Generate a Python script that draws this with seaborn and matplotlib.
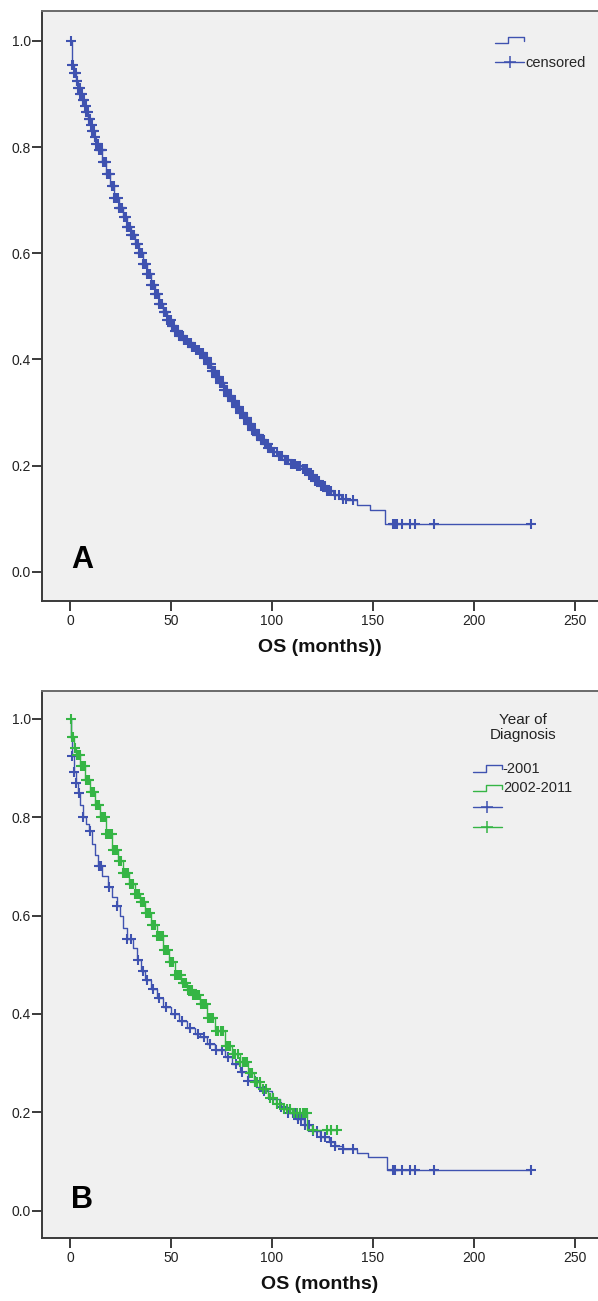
#!/usr/bin/env python3
"""Kaplan-Meier style overall survival curves, panel A (all) and B (by year of diagnosis)."""
import numpy as np
import pandas as pd
import matplotlib
matplotlib.use('Agg')
import matplotlib.pyplot as plt
import seaborn as sns
from matplotlib.legend_handler import HandlerBase
from matplotlib.lines import Line2D

# Panel A: whole cohort, survival steps
time_a = [0, 1, 2, 3, 4, 5, 6, 7, 8, 9, 10, 11, 12, 13, 14, 16, 18, 20, 22, 24,
          26, 28, 30, 32, 34, 36, 38, 40, 42, 44, 46, 48, 50, 52, 54, 56, 58, 60,
          62, 64, 66, 68, 70, 72, 74, 76, 78, 80, 82, 84, 86, 88, 90, 92, 94, 96,
          98, 100, 103, 106, 109, 112, 115, 118, 121, 124, 127, 130, 134, 137,
          142, 148.6, 156, 228]
surv_a = [1.000, 0.955, 0.940, 0.925, 0.912, 0.900, 0.888, 0.877, 0.865, 0.853,
          0.842, 0.830, 0.818, 0.806, 0.795, 0.772, 0.750, 0.727, 0.704, 0.686,
          0.668, 0.650, 0.634, 0.617, 0.600, 0.580, 0.561, 0.541, 0.523, 0.505,
          0.489, 0.475, 0.463, 0.453, 0.445, 0.437, 0.430, 0.424, 0.418, 0.412,
          0.402, 0.391, 0.378, 0.366, 0.355, 0.343, 0.332, 0.321, 0.310, 0.300,
          0.290, 0.279, 0.268, 0.258, 0.248, 0.240, 0.233, 0.226, 0.218, 0.210,
          0.204, 0.199, 0.193, 0.182, 0.172, 0.162, 0.153, 0.145, 0.138, 0.135,
          0.125, 0.117, 0.090, 0.090]
cens_a = [0.4, 1.2, 1.6, 2.1, 2.5, 2.8, 3.3, 3.6, 4.0, 4.3, 4.8, 5.1, 5.4, 5.7,
          6.2, 6.6, 6.9, 7.2, 7.7, 8.1, 8.4, 8.7, 9.2, 9.6, 9.9, 10.2, 10.7,
          11.1, 11.5, 11.8, 12.2, 12.5, 13.0, 13.4, 13.8, 14.3, 14.7, 15.1,
          15.5, 15.9, 16.4, 17.0, 17.4, 17.8, 18.5, 19.1, 19.5, 19.9, 20.6,
          21.2, 21.6, 22.0, 22.5, 22.9, 23.5, 24.1, 24.6, 25.0, 25.4, 25.8,
          26.5, 27.1, 27.6, 28.0, 28.4, 28.9, 29.6, 30.2, 30.6, 31.0, 31.4,
          31.9, 32.5, 33.1, 33.6, 34.0, 34.6, 35.2, 35.7, 36.1, 36.5, 36.9,
          37.6, 38.2, 38.6, 39.0, 39.6, 40.1, 40.7, 41.2, 41.6, 42.0, 42.6,
          43.1, 43.7, 44.2, 44.6, 45.0, 45.7, 46.3, 46.7, 47.1, 47.5, 48.0,
          48.6, 49.2, 49.8, 50.3, 50.7, 51.1, 51.7, 52.2, 52.6, 53.0, 53.6,
          54.1, 54.7, 55.3, 55.8, 56.2, 56.6, 57.0, 57.7, 58.3, 58.7, 59.1,
          59.7, 60.2, 60.6, 61.0, 61.7, 62.3, 62.7, 63.1, 63.7, 64.2, 64.8,
          65.4, 65.8, 66.1, 66.7, 67.3, 67.8, 68.2, 68.6, 69.0, 69.7, 70.3,
          70.8, 71.2, 71.6, 72.1, 72.8, 73.4, 73.8, 74.2, 74.6, 75.1, 75.7,
          76.3, 76.8, 77.2, 77.6, 78.0, 78.7, 79.3, 79.7, 80.1, 80.7, 81.2,
          81.8, 82.4, 82.8, 83.1, 83.7, 84.2, 84.8, 85.3, 85.7, 86.1, 86.8,
          87.4, 87.8, 88.2, 88.6, 89.1, 89.7, 90.3, 90.8, 91.2, 91.8, 92.4,
          92.8, 93.1, 93.7, 94.3, 94.8, 95.2, 95.8, 96.4, 96.9, 97.3, 97.8,
          98.2, 98.8, 99.4, 100.3, 101.2, 102.4, 103.5, 104.3, 105.1, 106.2,
          107.3, 108.1, 109.2, 110.3, 111.4, 112.2, 113.2, 114.1, 115.1,
          116.2, 117.3, 118.1, 119.2, 120.3, 121.4, 122.2, 123.1, 124.4,
          125.3, 126.1, 127.2, 128.3, 129.1, 131.3, 133.4, 135.2, 136.5,
          140.1, 159.8, 160.4, 161.0, 162.1, 164.2, 168.1, 171.0, 180.2, 228.0]

# Panel B: year of diagnosis groups
group_names = ['-2001', '2002-2011']
time_b1 = [0, 0.5, 1, 2, 3, 4, 5, 6.4, 8, 9.5, 11, 12.5, 14, 16, 19, 21, 23,
           24.7, 26, 28, 31, 33, 35, 37, 40, 43, 46, 50, 54, 58, 62, 64.4, 68,
           72, 76.7, 80, 84, 88, 92, 95.5, 100, 104, 108, 112, 116, 120, 124,
           128, 131, 135, 142, 147.5, 157, 228]
surv_b1 = [1.000, 0.960, 0.923, 0.892, 0.870, 0.848, 0.825, 0.800, 0.785,
           0.771, 0.745, 0.722, 0.700, 0.680, 0.657, 0.638, 0.619, 0.598,
           0.575, 0.552, 0.535, 0.510, 0.488, 0.470, 0.450, 0.432, 0.415,
           0.400, 0.385, 0.372, 0.360, 0.353, 0.340, 0.326, 0.312, 0.298,
           0.282, 0.264, 0.252, 0.243, 0.228, 0.212, 0.198, 0.187, 0.175,
           0.162, 0.150, 0.140, 0.132, 0.126, 0.118, 0.109, 0.083, 0.083]
cens_b1 = [1.1, 2.2, 3.1, 4.2, 6.6, 9.7, 14.2, 15.3, 19.4, 23.2, 28.3, 30.1,
           33.4, 36.2, 38.1, 41.3, 44.2, 47.4, 52.1, 55.3, 59.2, 63.4, 66.2,
           69.3, 72.4, 75.2, 78.4, 82.1, 85.3, 88.2, 91.4, 96.1, 100.3, 104.2,
           108.1, 110.2, 111.4, 113.1, 114.5, 116.2, 118.3, 120.1, 122.4,
           124.2, 126.3, 129.1, 131.2, 135.3, 140.1, 159.8, 160.4, 161.1,
           164.2, 168.1, 171.0, 180.2, 228.0]

time_b2 = [0, 0.5, 2, 3, 5, 7.5, 10, 12.5, 14.9, 18, 21, 23.5, 26, 29, 32,
           34.6, 37, 40, 43, 46, 49, 52, 55, 58, 61, 64.4, 68, 72, 76.7, 80,
           84, 88, 91, 94, 98, 102, 105.6, 110, 117.5, 132]
surv_b2 = [1.000, 0.963, 0.941, 0.925, 0.903, 0.876, 0.850, 0.825, 0.800,
           0.766, 0.734, 0.710, 0.687, 0.664, 0.643, 0.627, 0.605, 0.580,
           0.558, 0.530, 0.505, 0.480, 0.462, 0.448, 0.438, 0.420, 0.392,
           0.365, 0.335, 0.318, 0.302, 0.280, 0.262, 0.247, 0.230, 0.218,
           0.207, 0.199, 0.165, 0.165]
cens_b2 = [0.3, 1.0, 1.7, 2.5, 3.3, 4.1, 4.9, 5.6, 6.4, 7.2, 8.0, 8.8, 9.6,
           10.4, 11.2, 12.0, 12.9, 13.7, 14.5, 15.4, 16.3, 17.1, 18.0, 18.9,
           19.8, 20.6, 21.5, 22.4, 23.3, 24.2, 25.1, 26.0, 26.9, 27.8, 28.7,
           29.6, 30.5, 31.4, 32.3, 33.2, 34.1, 35.0, 35.9, 36.8, 37.7, 38.6,
           39.5, 40.4, 41.3, 42.2, 43.1, 44.0, 44.9, 45.8, 46.7, 47.6, 48.5,
           49.4, 50.3, 51.2, 52.1, 53.0, 53.9, 54.8, 55.7, 56.6, 57.5, 58.4,
           59.3, 60.2, 61.1, 62.0, 62.9, 63.8, 64.7, 65.6, 66.5, 67.4, 68.3,
           69.2, 70.1, 71.0, 72.2, 73.4, 74.6, 75.8, 77.0, 78.2, 79.4, 80.6,
           81.8, 83.0, 84.2, 85.4, 86.6, 87.8, 89.0, 90.2, 91.4, 92.6, 93.8,
           95.5, 97.2, 98.9, 100.6, 102.3, 104.0, 105.7, 107.4, 109.1, 110.8,
           112.5, 114.0, 115.2, 116.4, 117.2, 120.3, 127.1, 129.4, 132.0]

x_ticks = [0, 50, 100, 150, 200, 250]
y_ticks = [0.0, 0.2, 0.4, 0.6, 0.8, 1.0]

BLUE = '#3f52b0'
GREEN = '#35b545'
BG = '#f0f0f0'
SPINE = '#3a3a3a'


class HandlerStep(HandlerBase):
    """Draw the little step glyph SPSS uses for a survival function."""

    def create_artists(self, legend, orig_handle, xdescent, ydescent,
                       width, height, fontsize, trans):
        x0 = -xdescent
        y0 = -ydescent
        xs = [x0, x0 + 0.45 * width, x0 + 0.45 * width, x0 + width, x0 + width]
        ys = [y0 + 0.1 * height, y0 + 0.1 * height, y0 + 0.75 * height,
              y0 + 0.75 * height, y0 + 0.35 * height]
        line = Line2D(xs, ys, color=orig_handle.get_color(),
                      lw=orig_handle.get_linewidth())
        line.set_transform(trans)
        return [line]


def surv_at(times, surv, t):
    """Value of the step function at censoring times."""
    idx = np.searchsorted(np.asarray(times), np.asarray(t), side='right') - 1
    return np.asarray(surv)[np.clip(idx, 0, len(surv) - 1)]


def draw_curve(ax, times, surv, cens, color):
    df = pd.DataFrame({'t': times, 's': surv})
    sns.lineplot(data=df, x='t', y='s', ax=ax, color=color, lw=1.0,
                 estimator=None, sort=False, drawstyle='steps-post')
    cf = pd.DataFrame({'t': cens, 's': surv_at(times, surv, cens)})
    sns.lineplot(data=cf, x='t', y='s', ax=ax, color=color, estimator=None,
                 sort=False, linestyle='', marker='+', markersize=7.5,
                 markeredgewidth=1.5, markeredgecolor=color,
                 markerfacecolor=color)


def style_axes(ax, xlabel, letter):
    ax.set_facecolor(BG)
    ax.set_xlim(-13.9, 261.4)
    ax.set_ylim(-0.055, 1.056)
    ax.set_xticks(x_ticks)
    ax.set_yticks(y_ticks)
    ax.set_yticklabels([f'{v:.1f}' for v in y_ticks])
    for side in ['left', 'bottom', 'top']:
        ax.spines[side].set_color(SPINE)
        ax.spines[side].set_linewidth(1.4)
    ax.spines['top'].set_color('#6a6a6a')
    ax.spines['right'].set_visible(False)
    ax.tick_params(axis='both', direction='out', color=SPINE, width=1.4,
                   labelsize=10, labelcolor='#222222', bottom=True, left=True,
                   top=False, right=False)
    ax.tick_params(axis='y', length=7, pad=1)
    ax.tick_params(axis='x', length=7.5, pad=2)
    ax.set_xlabel(xlabel, fontsize=14, fontweight='bold', labelpad=8,
                  color='#111111')
    ax.set_ylabel('')
    ax.text(5.8, 0.022, letter, fontsize=22, fontweight='bold',
            ha='center', va='center', color='black')


def main():
    sns.set_style('ticks')
    plt.rcParams['font.family'] = ['Liberation Sans', 'DejaVu Sans']

    fig = plt.figure(figsize=(5.98, 13.01), dpi=100)
    ax_a = fig.add_axes([0.0702, 0.538, 0.9298, 0.4535])
    ax_b = fig.add_axes([0.0702, 0.0484, 0.9298, 0.4205])

    # Panel A
    draw_curve(ax_a, time_a, surv_a, cens_a, BLUE)
    style_axes(ax_a, 'OS (months))', 'A')
    h_step = Line2D([], [], color=BLUE, lw=1.0)
    h_cens = Line2D([], [], color=BLUE, lw=1.0, marker='+', markersize=9,
                    markeredgewidth=1.1)
    ax_a.legend([h_step, h_cens], ['', 'censored'],
                handler_map={h_step: HandlerStep()},
                loc='upper left', bbox_to_anchor=(0.815, 0.962), frameon=False,
                fontsize=10.5, handlelength=2.0, handletextpad=0.05,
                labelspacing=0.6, borderpad=0, borderaxespad=0)

    # Panel B
    draw_curve(ax_b, time_b1, surv_b1, cens_b1, BLUE)
    draw_curve(ax_b, time_b2, surv_b2, cens_b2, GREEN)
    style_axes(ax_b, 'OS (months)', 'B')
    ax_b.text(0.865, 0.934, 'Year of\nDiagnosis', transform=ax_b.transAxes,
              ha='center', va='center', fontsize=11, color='#222222',
              linespacing=1.1)
    hb1 = Line2D([], [], color=BLUE, lw=1.0)
    hb2 = Line2D([], [], color=GREEN, lw=1.0)
    hc1 = Line2D([], [], color=BLUE, lw=1.0, marker='+', markersize=9,
                 markeredgewidth=1.1)
    hc2 = Line2D([], [], color=GREEN, lw=1.0, marker='+', markersize=9,
                 markeredgewidth=1.1)
    ax_b.legend([hb1, hb2, hc1, hc2], group_names + ['', ''],
                handler_map={hb1: HandlerStep(), hb2: HandlerStep()},
                loc='upper left', bbox_to_anchor=(0.775, 0.871), frameon=False,
                fontsize=10.5, handlelength=2.0, handletextpad=0.05,
                labelspacing=0.4, borderpad=0, borderaxespad=0)

    fig.savefig('out.png', dpi=100, facecolor='white')
    plt.close(fig)


if __name__ == '__main__':
    main()
